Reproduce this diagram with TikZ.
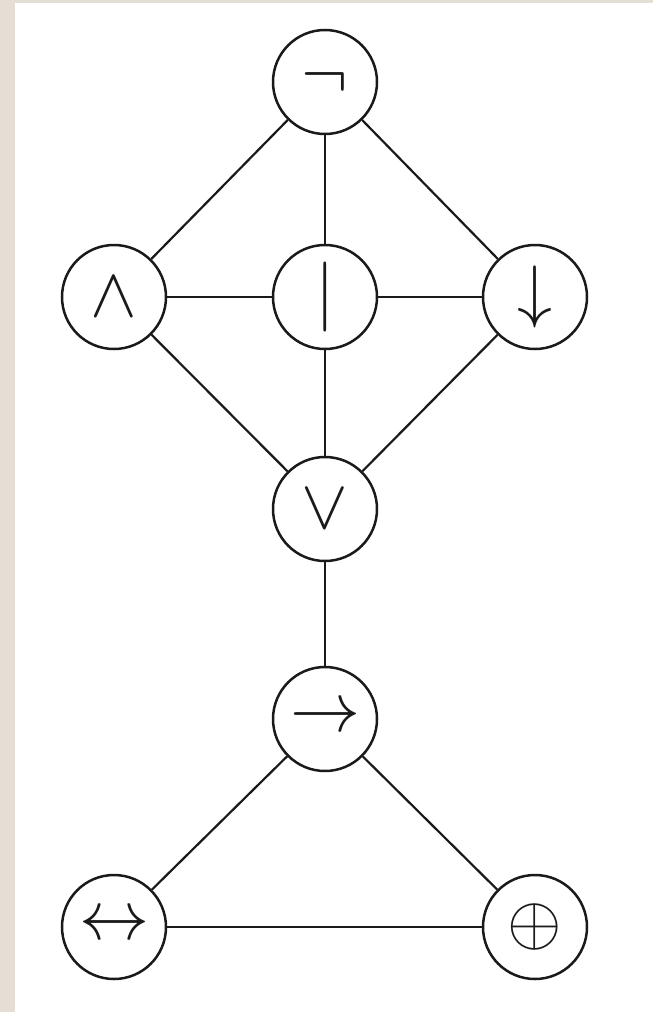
\documentclass[tikz,border=0pt]{standalone}
\usetikzlibrary{positioning}
\definecolor{framebeige}{HTML}{E4DED4}
\definecolor{ink}{HTML}{1A1A1A}
\tikzset{
  op/.style={circle, draw=ink, line width=2.5pt, minimum size=104pt,
    inner sep=0pt, fill=white, text=ink},
  link/.style={draw=ink, line width=2.2pt},
}
\newcommand{\opsym}[1]{\scalebox{7}{$#1$}}

\begin{document}
\begin{tikzpicture}[on grid]
  % page frame
  \fill[framebeige] (0,0) rectangle (653pt,-1012pt);
  \fill[white] (15pt,-3pt) rectangle (653pt,-1012pt);
  \useasboundingbox (0,0) rectangle (653pt,-1012pt);

  \node[op] (neg) at (325pt,-82pt) {\opsym{\neg}};
  \node[op, below=215pt of neg] (nand) {\opsym{\mid}};
  \node[op, left=211pt of nand] (and) {\opsym{\wedge}};
  \node[op, right=210pt of nand] (nor) {\opsym{\downarrow}};
  \node[op, below=212pt of nand] (or) {\opsym{\vee}};
  \node[op, below=210pt of or] (imp) {\opsym{\rightarrow}};
  \node[op, below left=208pt and 211pt of imp] (iff) {\opsym{\leftrightarrow}};
  \node[op, below right=208pt and 210pt of imp] (xor) {\opsym{\oplus}};

  \draw[link] (neg) -- (and);
  \draw[link] (neg) -- (nand);
  \draw[link] (neg) -- (nor);
  \draw[link] (and) -- (nand);
  \draw[link] (nand) -- (nor);
  \draw[link] (and) -- (or);
  \draw[link] (nand) -- (or);
  \draw[link] (nor) -- (or);
  \draw[link] (or) -- (imp);
  \draw[link] (imp) -- (iff);
  \draw[link] (imp) -- (xor);
  \draw[link] (iff) -- (xor);
\end{tikzpicture}
\end{document}
